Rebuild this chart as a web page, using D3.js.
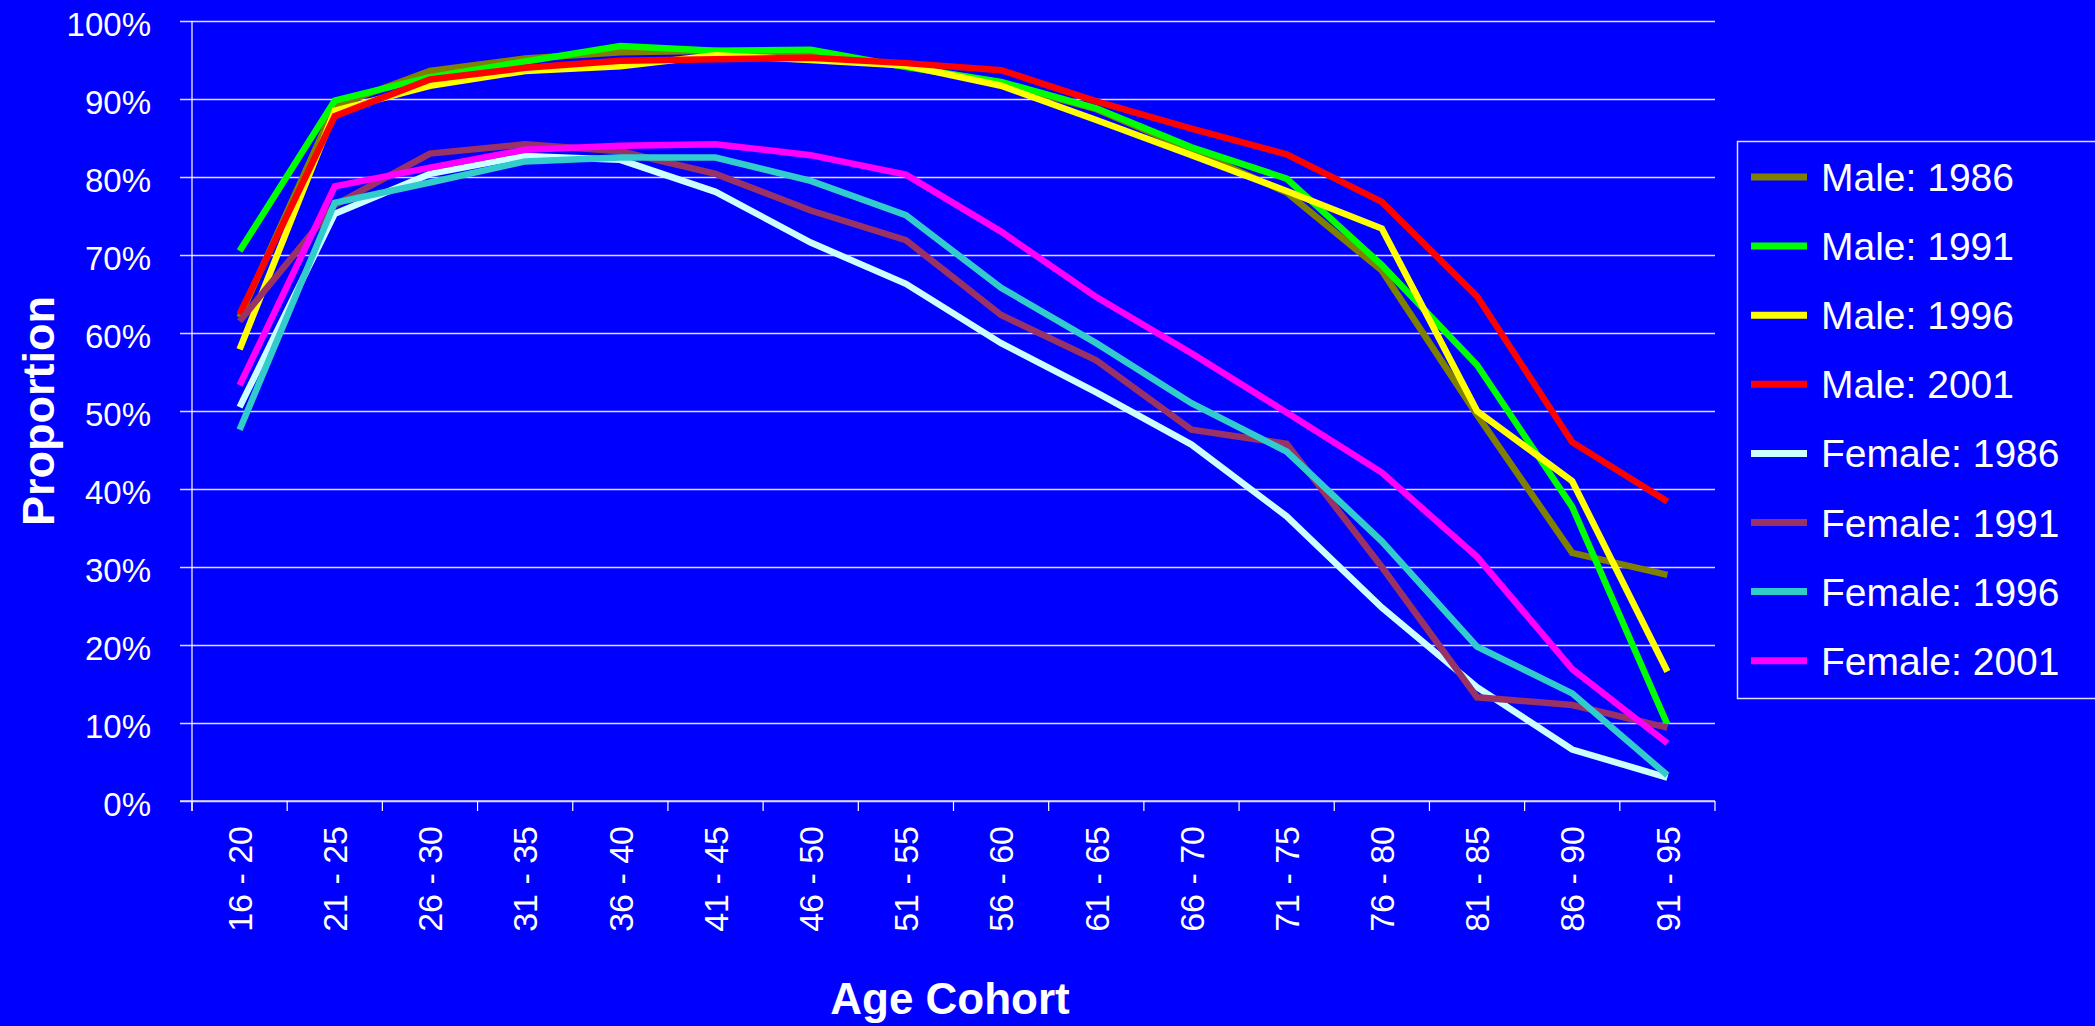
<!DOCTYPE html>
<html>
<head>
<meta charset="utf-8">
<script src="https://cdn.jsdelivr.net/npm/d3@7"></script>
<style>
  body { margin: 0; background: #0000ff; overflow: hidden; }
  svg { display: block; font-family: "Liberation Sans", Arial, sans-serif; }
</style>
</head>
<body>
<div id="chart"></div>
<script>
// age cohorts along the x axis
const categories = ["16 - 20", "21 - 25", "26 - 30", "31 - 35", "36 - 40", "41 - 45", "46 - 50", "51 - 55",
  "56 - 60", "61 - 65", "66 - 70", "71 - 75", "76 - 80", "81 - 85", "86 - 90", "91 - 95"];

// proportions, in percent
const male1986 = [62.0, 89.1, 93.6, 95.2, 96.0, 96.2, 95.6, 94.2, 92.0, 88.7, 83.5, 78.0, 68.0, 49.5, 31.8, 29.0];
const male1991 = [70.5, 89.8, 92.8, 94.8, 96.8, 96.2, 96.3, 94.1, 92.2, 88.8, 83.8, 79.8, 68.7, 55.9, 37.7, 9.8];
const male1996 = [57.9, 88.5, 91.7, 93.6, 94.2, 95.6, 95.0, 94.3, 91.7, 87.3, 82.8, 78.2, 73.4, 50.0, 41.0, 16.6];
const male2001 = [62.4, 87.8, 92.5, 94.0, 94.9, 95.1, 95.3, 94.6, 93.7, 89.7, 86.2, 82.9, 76.8, 64.7, 46.0, 38.4];
const female1986 = [50.5, 75.3, 80.4, 82.7, 82.2, 78.1, 71.6, 66.3, 58.7, 52.4, 45.7, 36.5, 24.8, 14.6, 6.6, 3.0];
const female1991 = [61.5, 76.4, 83.0, 84.2, 83.3, 80.4, 75.7, 71.9, 62.3, 56.5, 47.6, 45.8, 30.0, 13.3, 12.3, 9.4];
const female1996 = [47.6, 76.7, 79.3, 82.0, 82.5, 82.5, 79.5, 75.1, 65.8, 58.7, 51.0, 44.8, 33.3, 19.8, 13.8, 3.3];
const female2001 = [53.3, 78.8, 81.2, 83.5, 84.0, 84.2, 82.8, 80.3, 73.0, 64.6, 57.4, 49.8, 42.1, 31.3, 16.9, 7.4];

const seriesNames = ["Male: 1986", "Male: 1991", "Male: 1996", "Male: 2001",
  "Female: 1986", "Female: 1991", "Female: 1996", "Female: 2001"];
const seriesValues = [male1986, male1991, male1996, male2001, female1986, female1991, female1996, female2001];
const seriesColors = ["#808000", "#00ff00", "#ffff00", "#ff0000", "#ccffff", "#993366", "#33cccc", "#ff00ff"];

const yTicks = [0, 10, 20, 30, 40, 50, 60, 70, 80, 90, 100];

let width = 2095, height = 1026;
let margin = { top: 21, right: 380, bottom: 225, left: 192 };
let plotW = width - margin.left - margin.right,
  plotH = height - margin.top - margin.bottom;

let svg = d3.select("#chart").append("svg")
  .attr("width", width)
  .attr("height", height);

svg.append("rect")
  .attr("width", width)
  .attr("height", height)
  .attr("fill", "#0000ff");

let g = svg.append("g")
  .attr("transform", "translate(" + margin.left + "," + margin.top + ")");

let x = d3.scaleBand()
  .domain(categories)
  .range([0, plotW]);

let y = d3.scaleLinear()
  .domain([0, 100])
  .range([plotH, 0]);

const gridColor = "#dcdcff";

// horizontal gridlines + y axis
let yAxis = g.append("g")
  .call(d3.axisLeft(y).tickValues(yTicks).tickSize(12).tickPadding(29).tickFormat(d => d + "%"));
yAxis.select(".domain").remove();
yAxis.selectAll(".tick line").attr("stroke", gridColor).attr("stroke-width", 1.5)
  .attr("x2", plotW).attr("x1", -12);
yAxis.selectAll(".tick text")
  .attr("fill", "#ffffff")
  .attr("font-size", 33)
  .attr("dy", "0.45em");

// y axis line
g.append("line")
  .attr("x1", 0).attr("x2", 0)
  .attr("y1", 0).attr("y2", plotH + 10)
  .attr("stroke", "#ffffff").attr("stroke-width", 1.2);

// x axis line
g.append("line")
  .attr("x1", -12).attr("x2", plotW)
  .attr("y1", plotH).attr("y2", plotH)
  .attr("stroke", gridColor).attr("stroke-width", 1.5);

// tick marks sit between cohorts
let bounds = categories.map(c => x(c)).concat([x.range()[1]]);
g.selectAll(".xtick")
  .data(bounds)
  .enter()
  .append("line")
  .attr("class", "xtick")
  .attr("x1", d => d).attr("x2", d => d)
  .attr("y1", plotH).attr("y2", plotH + 10)
  .attr("stroke", "#ffffff").attr("stroke-width", 1.2);

// rotated cohort labels
g.selectAll(".xlabel")
  .data(categories)
  .enter()
  .append("text")
  .attr("class", "xlabel")
  .attr("transform", d => "translate(" + (x(d) + x.bandwidth() / 2) + "," + (plotH + 25) + ") rotate(-90)")
  .attr("text-anchor", "end")
  .attr("dy", "0.36em")
  .attr("fill", "#ffffff")
  .attr("font-size", 34)
  .text(d => d);

// series lines
let line = d3.line()
  .x((d, i) => x(categories[i]) + x.bandwidth() / 2)
  .y(d => y(d));

g.selectAll(".series")
  .data(seriesValues)
  .enter()
  .append("path")
  .attr("class", "series")
  .attr("d", d => line(d))
  .attr("fill", "none")
  .attr("stroke", (d, i) => seriesColors[i])
  .attr("stroke-width", 6.5)
  .attr("stroke-linejoin", "miter");

// axis titles
svg.append("text")
  .attr("transform", "translate(54," + (margin.top + plotH / 2) + ") rotate(-90)")
  .attr("text-anchor", "middle")
  .attr("fill", "#ffffff")
  .attr("font-size", 45)
  .attr("font-weight", "bold")
  .text("Proportion");

svg.append("text")
  .attr("x", 950)
  .attr("y", 1014)
  .attr("text-anchor", "middle")
  .attr("fill", "#ffffff")
  .attr("font-size", 44)
  .attr("font-weight", "bold")
  .text("Age Cohort");

// legend
let legend = svg.append("g").attr("transform", "translate(1737,141)");

legend.append("rect")
  .attr("x", 0.5).attr("y", 0.5)
  .attr("width", 420).attr("height", 557)
  .attr("fill", "#0000ff")
  .attr("stroke", gridColor)
  .attr("stroke-width", 1.5);

let item = legend.selectAll(".item")
  .data(seriesNames)
  .enter()
  .append("g")
  .attr("class", "item")
  .attr("transform", (d, i) => "translate(0," + (36 + i * 69.1) + ")");

item.append("line")
  .attr("x1", 14).attr("x2", 70)
  .attr("stroke", (d, i) => seriesColors[i])
  .attr("stroke-width", 7);

item.append("text")
  .attr("x", 84)
  .attr("dy", "0.36em")
  .attr("fill", "#ffffff")
  .attr("font-size", 39)
  .text(d => d);
</script>
</body>
</html>
